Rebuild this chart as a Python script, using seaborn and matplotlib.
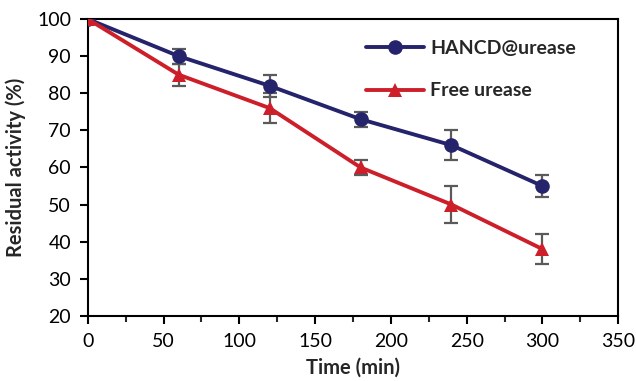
import numpy as np
import pandas as pd
import matplotlib
matplotlib.use("Agg")
import matplotlib.pyplot as plt
import seaborn as sns
from matplotlib.ticker import MultipleLocator

# -----------------------------
# DATA
# -----------------------------
time_min = [0, 60, 120, 180, 240, 300]
hancd_act = [100, 90, 82, 73, 66, 55]
hancd_err = [0, 2, 3, 2, 4, 3]
free_act = [100, 85, 76, 60, 50, 38]
free_err = [0, 3, 4, 2, 5, 4]

df = pd.DataFrame({
    "time": time_min * 2,
    "activity": hancd_act + free_act,
    "err": hancd_err + free_err,
    "series": ["HANCD@urease"] * 6 + ["Free urease"] * 6,
})

colors = {"HANCD@urease": "#25236B", "Free urease": "#CC1F2A"}
markers = {"HANCD@urease": "o", "Free urease": "^"}

# -----------------------------
# PLOT SETUP
# -----------------------------
sns.set_style("ticks")
plt.rcParams["font.family"] = ["Lato", "DejaVu Sans"]

fig = plt.figure(figsize=(6.36, 3.81), dpi=100)
ax = fig.add_axes([0.138, 0.171, 0.834, 0.779])

# error bars behind the lines
for name in ["HANCD@urease", "Free urease"]:
    sub = df[df["series"] == name]
    ax.errorbar(sub["time"], sub["activity"], yerr=sub["err"], fmt="none",
                ecolor="#5A5A5A", elinewidth=1.6, capsize=5, capthick=1.6, zorder=2)

sns.lineplot(data=df, x="time", y="activity", hue="series", style="series",
             palette=colors, markers=markers, dashes=False, linewidth=2.8,
             markersize=10.5, markeredgewidth=0, ax=ax, zorder=3)

# -----------------------------
# AXES
# -----------------------------
ax.set_xlim(0, 350)
ax.set_ylim(20, 100)
ax.xaxis.set_major_locator(MultipleLocator(50))
ax.xaxis.set_minor_locator(MultipleLocator(25))
ax.yaxis.set_major_locator(MultipleLocator(10))
ax.tick_params(axis="both", which="major", direction="out", length=6, width=1.5,
               labelsize=14, colors="black", pad=6)
ax.tick_params(axis="x", which="minor", direction="out", length=4, width=1.5)
for s in ax.spines.values():
    s.set_visible(True)
    s.set_linewidth(1.5)
    s.set_color("black")

ax.set_xlabel("Time (min)", fontsize=14.5, weight="bold", labelpad=6)
ax.set_ylabel("Residual activity (%)", fontsize=14.5, weight="bold", labelpad=8)

leg = ax.legend(loc="upper left", bbox_to_anchor=(0.51, 0.955), frameon=False,
                fontsize=14, handlelength=3.0, handletextpad=0.3,
                labelspacing=1.3, borderaxespad=0)
for t in leg.get_texts():
    t.set_fontweight("bold")

fig.savefig("out.png", dpi=100)
